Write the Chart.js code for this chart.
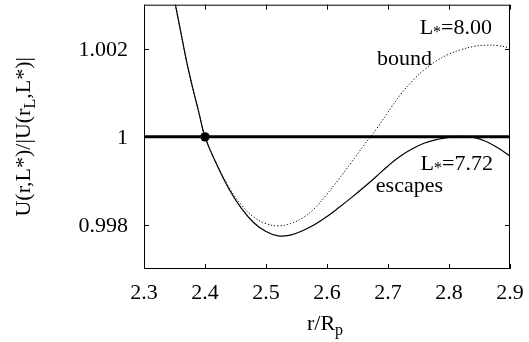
<!DOCTYPE html>
<html>
<head>
<meta charset="utf-8">
<script src="https://cdn.jsdelivr.net/npm/chart.js@4.4.0/dist/chart.umd.min.js"></script>
<style>
  html, body { margin: 0; padding: 0; background: #fff; }
  #wrap { width: 529px; height: 342px; }
</style>
</head>
<body>
<div id="wrap"><canvas id="potChart"></canvas></div>
<script>
/* ── Data ── */
const rValues = [2.33, 2.34, 2.35, 2.36, 2.37, 2.38, 2.39, 2.40, 2.42, 2.44, 2.46, 2.48, 2.50,
                 2.52, 2.54, 2.56, 2.58, 2.60, 2.62, 2.64, 2.66, 2.68, 2.70, 2.72, 2.74,
                 2.76, 2.78, 2.80, 2.82, 2.84, 2.86, 2.88, 2.90];

// L* = 7.72 (escapes)
const uEscapes = [1.0045, 1.0038, 1.0031, 1.0024, 1.0017, 1.0011, 1.00055, 1.0000, 0.99935, 0.99880,
                  0.99837, 0.99805, 0.99785, 0.99775, 0.99777, 0.99787, 0.99801, 0.99819, 0.99840,
                  0.99862, 0.99885, 0.99909, 0.99934, 0.99956, 0.99973, 0.99986, 0.99994, 0.99999,
                  1.00001, 0.99999, 0.99990, 0.99975, 0.99956];

// L* = 8.00 (bound)
const uBound = [1.0045, 1.0038, 1.0031, 1.0024, 1.0017, 1.0011, 1.00055, 1.0000, 0.99936, 0.99884,
                0.99845, 0.99818, 0.99803, 0.99798, 0.99803, 0.99816, 0.99838, 0.99870, 0.99905,
                0.99942, 0.99980, 1.00016, 1.00056, 1.00095, 1.00127, 1.00153, 1.00173, 1.00188,
                1.00198, 1.00205, 1.00208, 1.00207, 1.00202];

const refRange = [2.3, 2.9];
const refLevel = [1, 1];
const markerPoint = [2.4, 1];

const xTicks = [2.3, 2.4, 2.5, 2.6, 2.7, 2.8, 2.9];
const yTicks = [0.998, 1, 1.002];

const FONT = "'Liberation Serif', 'Times New Roman', serif";
const FONT_SIZE = 22;

/* ── Helpers ── */
function toPoints(xs, ys) {
    return xs.map((x, i) => ({ x: x, y: ys[i] }));
}

// parts: [text, sizeFactor, dy]
function drawRich(ctx, parts, x, y, align) {
    let total = 0;
    const widths = parts.map(p => {
        ctx.font = Math.round(FONT_SIZE * p[1]) + 'px ' + FONT;
        const w = ctx.measureText(p[0]).width;
        total += w;
        return w;
    });
    let cx = align === 'right' ? x - total : align === 'center' ? x - total / 2 : x;
    ctx.textAlign = 'left';
    ctx.textBaseline = 'alphabetic';
    parts.forEach((p, i) => {
        ctx.font = Math.round(FONT_SIZE * p[1]) + 'px ' + FONT;
        ctx.fillText(p[0], cx, y + p[2]);
        cx += widths[i];
    });
}

/* ── Frame, inward ticks, tick labels, titles and curve labels ── */
const decorations = {
    id: 'decorations',
    afterDraw(chart) {
        const { ctx, chartArea: a, scales: { x, y } } = chart;
        ctx.save();
        ctx.strokeStyle = '#000';
        ctx.fillStyle = '#000';
        ctx.lineWidth = 1;
        ctx.strokeRect(a.left + 0.5, a.top + 0.5, a.right - a.left - 1, a.bottom - a.top - 1);

        const tl = 5;
        ctx.beginPath();
        xTicks.forEach(v => {
            const px = Math.round(x.getPixelForValue(v)) + 0.5;
            ctx.moveTo(px, a.bottom); ctx.lineTo(px, a.bottom - tl);
            ctx.moveTo(px, a.top); ctx.lineTo(px, a.top + tl);
        });
        yTicks.forEach(v => {
            const py = Math.round(y.getPixelForValue(v)) + 0.5;
            ctx.moveTo(a.left, py); ctx.lineTo(a.left + tl, py);
            ctx.moveTo(a.right, py); ctx.lineTo(a.right - tl, py);
        });
        ctx.stroke();

        // tick labels
        ctx.font = FONT_SIZE + 'px ' + FONT;
        ctx.textBaseline = 'alphabetic';
        ctx.textAlign = 'center';
        xTicks.forEach(v => ctx.fillText(String(v), x.getPixelForValue(v), a.bottom + 30));
        ctx.textAlign = 'right';
        yTicks.forEach(v => ctx.fillText(String(v), a.left - 16, y.getPixelForValue(v) + 7.5));

        // x title
        drawRich(ctx, [['r/R', 1, 0], ['p', 0.72, 5]], (a.left + a.right) / 2 - 2, 330, 'center');

        // y title
        ctx.save();
        ctx.translate(30, (a.top + a.bottom) / 2);
        ctx.rotate(-Math.PI / 2);
        drawRich(ctx, [['U(r,L*)/|U(r', 1, 0], ['L', 0.72, 5], [',L*)|', 1, 0]], 0, 0, 'center');
        ctx.restore();

        // curve labels
        const star = ['*', 0.72, 3];
        drawRich(ctx, [['L', 1, 0], star, ['=8.00', 1, 0]], x.getPixelForValue(2.8705), y.getPixelForValue(1.00234), 'right');
        drawRich(ctx, [['bound', 1, 0]], x.getPixelForValue(2.682), y.getPixelForValue(1.00162), 'left');
        drawRich(ctx, [['L', 1, 0], star, ['=7.72', 1, 0]], x.getPixelForValue(2.872), y.getPixelForValue(0.99925), 'right');
        drawRich(ctx, [['escapes', 1, 0]], x.getPixelForValue(2.680), y.getPixelForValue(0.99874), 'left');
        ctx.restore();
    }
};

/* ── Chart ── */
new Chart(document.getElementById('potChart'), {
    type: 'line',
    data: {
        datasets: [
            {
                label: 'L*=7.72',
                data: toPoints(rValues, uEscapes),
                borderColor: '#000',
                borderWidth: 1.2,
                pointRadius: 0,
                tension: 0.4,
            },
            {
                label: 'L*=8.00',
                data: toPoints(rValues, uBound),
                borderColor: '#000',
                borderWidth: 1,
                borderDash: [1.2, 2],
                pointRadius: 0,
                tension: 0.4,
            },
            {
                label: 'U = 1',
                data: toPoints(refRange, refLevel),
                borderColor: '#000',
                borderWidth: 3,
                pointRadius: 0,
            },
            {
                label: 'r_L',
                data: [{ x: markerPoint[0], y: markerPoint[1] }],
                showLine: false,
                pointRadius: 4.7,
                pointBackgroundColor: '#000',
                pointBorderColor: '#000',
                pointBorderWidth: 0,
            }
        ]
    },
    options: {
        responsive: true,
        maintainAspectRatio: false,
        animation: false,
        events: [],
        layout: { padding: { left: 0, right: 19, top: 4, bottom: 0 } },
        plugins: {
            legend: { display: false },
            tooltip: { enabled: false },
        },
        scales: {
            x: {
                type: 'linear',
                min: 2.3,
                max: 2.9,
                afterBuildTicks: (s) => { s.ticks = xTicks.map(v => ({ value: v })); },
                afterFit: (s) => { s.height = 73; },
                grid: { display: false, drawTicks: false },
                border: { display: false },
                ticks: { display: false },
            },
            y: {
                type: 'linear',
                min: 0.997,
                max: 1.003,
                afterBuildTicks: (s) => { s.ticks = yTicks.map(v => ({ value: v })); },
                afterFit: (s) => { s.width = 144; },
                grid: { display: false, drawTicks: false },
                border: { display: false },
                ticks: { display: false },
            }
        }
    },
    plugins: [decorations]
});
</script>
</body>
</html>
